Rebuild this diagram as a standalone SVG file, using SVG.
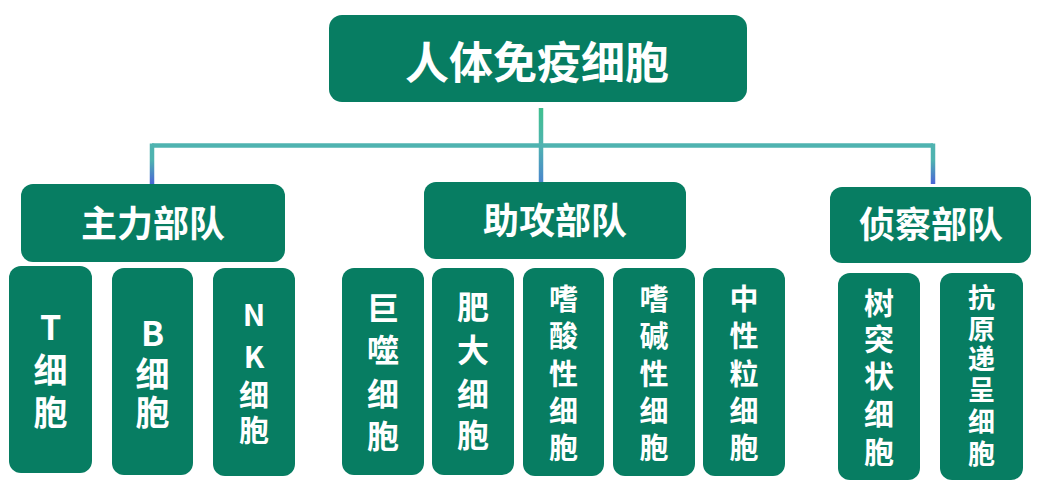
<svg xmlns="http://www.w3.org/2000/svg" width="1049" height="500" viewBox="0 0 1049 500">
<defs>
<linearGradient id="gMid" x1="0" y1="108" x2="0" y2="182" gradientUnits="userSpaceOnUse">
<stop offset="0" stop-color="#3fc08e"/><stop offset="0.5" stop-color="#4fb3b0"/><stop offset="1" stop-color="#4a86cc"/>
</linearGradient>
<linearGradient id="gSide" x1="0" y1="144" x2="0" y2="184" gradientUnits="userSpaceOnUse">
<stop offset="0" stop-color="#4fb3b0"/><stop offset="0.4" stop-color="#4fb3b0"/><stop offset="1" stop-color="#4a66d6"/>
</linearGradient>
</defs>
<style>
.box{fill:#077d62}
.t{fill:#ffffff;font-family:"Noto Sans CJK SC","Liberation Sans",sans-serif;font-weight:bold;text-anchor:middle;dominant-baseline:central}
</style>
<rect width="1049" height="500" fill="#ffffff"/>
<g id="connectors" fill="none" stroke-width="4.5">
<line x1="152" y1="145.5" x2="933" y2="145.5" stroke="#4fb3b0"/>
<line x1="152" y1="143.5" x2="152" y2="184" stroke="url(#gSide)"/>
<line x1="933" y1="143.5" x2="933" y2="184" stroke="url(#gSide)"/>
<line x1="541" y1="108" x2="541" y2="182" stroke="url(#gMid)"/>
</g>
<g id="root"><rect class="box" x="329" y="15" width="418" height="87" rx="13"/><text class="t" x="537" y="60" font-size="44">人体免疫细胞</text></g>
<g id="main"><rect class="box" x="21" y="184" width="264" height="78" rx="12"/><text class="t" x="153" y="221" font-size="36">主力部队</text></g>
<g id="assist"><rect class="box" x="424" y="182" width="262" height="77" rx="12"/><text class="t" x="555" y="218" font-size="36">助攻部队</text></g>
<g id="scout"><rect class="box" x="830" y="187" width="201" height="76" rx="12"/><text class="t" x="931" y="222" font-size="36">侦察部队</text></g>
<g id="tcell"><rect class="box" x="9" y="266" width="83" height="207" rx="12"/><text class="t" font-size="34"><tspan x="50.5" y="325">T</tspan><tspan x="50.5" y="368">细</tspan><tspan x="50.5" y="410">胞</tspan></text></g>
<g id="bcell"><rect class="box" x="112" y="268" width="81" height="207" rx="12"/><text class="t" font-size="34"><tspan x="152.5" y="331">B</tspan><tspan x="152.5" y="372">细</tspan><tspan x="152.5" y="410">胞</tspan></text></g>
<g id="nkcell"><rect class="box" x="213" y="268" width="82" height="208" rx="12"/><text class="t" font-size="30"><tspan x="254" y="313">N</tspan><tspan x="254" y="355">K</tspan><tspan x="254" y="393">细</tspan><tspan x="254" y="428">胞</tspan></text></g>
<g id="macrophage"><rect class="box" x="342" y="268" width="82" height="207" rx="12"/><text class="t" font-size="32"><tspan x="383" y="306">巨</tspan><tspan x="383" y="348">噬</tspan><tspan x="383" y="392">细</tspan><tspan x="383" y="434">胞</tspan></text></g>
<g id="mast"><rect class="box" x="432" y="268" width="82" height="207" rx="12"/><text class="t" font-size="32"><tspan x="473" y="305">肥</tspan><tspan x="473" y="348">大</tspan><tspan x="473" y="392">细</tspan><tspan x="473" y="433">胞</tspan></text></g>
<g id="eosinophil"><rect class="box" x="523" y="268" width="81" height="208" rx="12"/><text class="t" font-size="29"><tspan x="563.5" y="297">嗜</tspan><tspan x="563.5" y="334">酸</tspan><tspan x="563.5" y="372">性</tspan><tspan x="563.5" y="409">细</tspan><tspan x="563.5" y="446">胞</tspan></text></g>
<g id="basophil"><rect class="box" x="613" y="268" width="82" height="208" rx="12"/><text class="t" font-size="29"><tspan x="654" y="297">嗜</tspan><tspan x="654" y="334">碱</tspan><tspan x="654" y="372">性</tspan><tspan x="654" y="409">细</tspan><tspan x="654" y="446">胞</tspan></text></g>
<g id="neutrophil"><rect class="box" x="703" y="268" width="82" height="208" rx="12"/><text class="t" font-size="29"><tspan x="744" y="297">中</tspan><tspan x="744" y="334">性</tspan><tspan x="744" y="372">粒</tspan><tspan x="744" y="409">细</tspan><tspan x="744" y="446">胞</tspan></text></g>
<g id="dendritic"><rect class="box" x="838" y="273" width="82" height="207" rx="12"/><text class="t" font-size="30"><tspan x="879" y="301">树</tspan><tspan x="879" y="337">突</tspan><tspan x="879" y="374">状</tspan><tspan x="879" y="412">细</tspan><tspan x="879" y="450">胞</tspan></text></g>
<g id="apc"><rect class="box" x="940" y="273" width="83" height="207" rx="12"/><text class="t" font-size="27"><tspan x="981.5" y="296">抗</tspan><tspan x="981.5" y="327">原</tspan><tspan x="981.5" y="357">递</tspan><tspan x="981.5" y="388">呈</tspan><tspan x="981.5" y="420">细</tspan><tspan x="981.5" y="452">胞</tspan></text></g>
</svg>
